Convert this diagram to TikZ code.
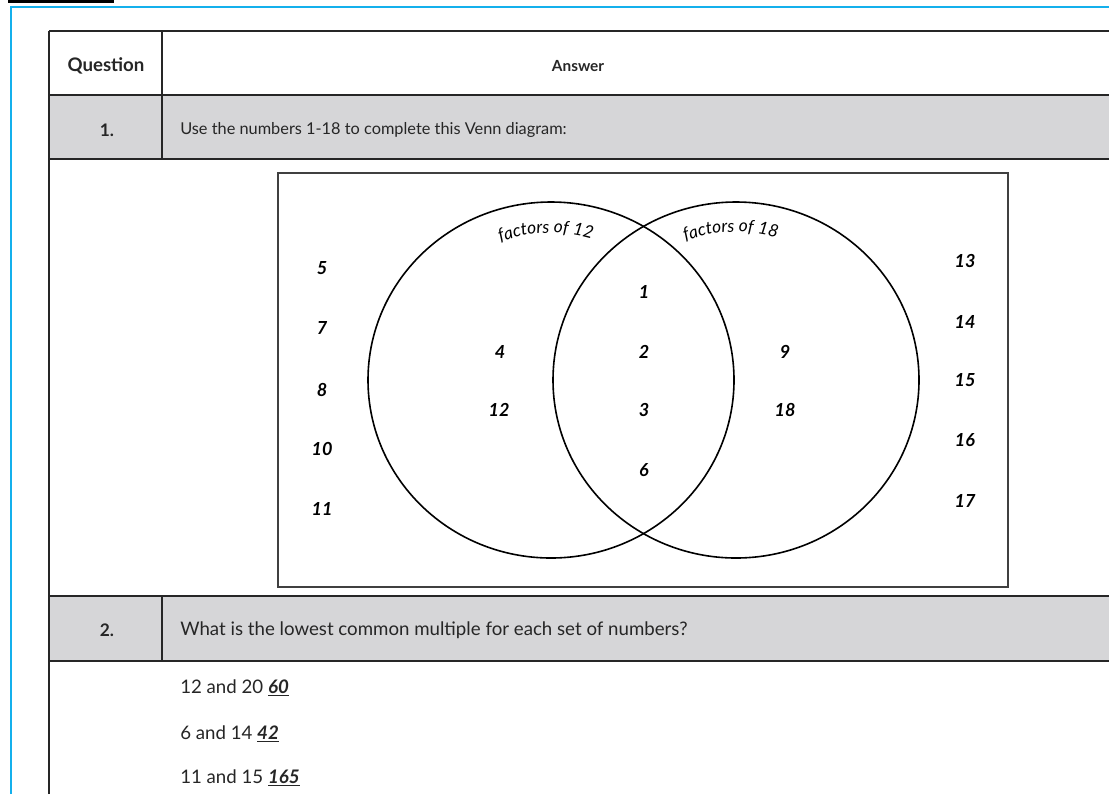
\documentclass[tikz,border=0pt]{standalone}
\usepackage{fontspec}
\setmainfont{Lato}
\usetikzlibrary{decorations.text}
\definecolor{framecyan}{HTML}{14B0EC}
\definecolor{rowgray}{HTML}{D6D6D8}
\begin{document}
\begin{tikzpicture}[x=0.75pt,y=0.75pt,
  tline/.style={line width=1.7pt, draw=black!85},
  txt/.style={font=\fontsize{12.25}{14}\selectfont, anchor=west, inner sep=0pt, text=black!85},
  anstxt/.style={font=\fontsize{14}{16}\selectfont, anchor=west, inner sep=0pt, text=black!85},
  hdr/.style={font=\fontsize{11.5}{13}\selectfont\bfseries, inner sep=0pt, text=black!85},
  num/.style={font=\fontsize{13.5}{15}\selectfont\bfseries\itshape, inner sep=0pt}
]
\useasboundingbox (0,0) rectangle (1109,-794);
\fill[white] (0,0) rectangle (1109,-794);
% top black bar and cyan frame
\draw[line width=2.5pt] (8,-1) -- (114,-1);
\draw[framecyan, line width=2pt] (11,-794) -- (11,-7) -- (1109,-7);
% shaded rows
\fill[rowgray] (49,-95) rectangle (1109,-159);
\fill[rowgray] (49,-596) rectangle (1109,-661);
% table lines
\draw[tline] (49,-794) -- (49,-31);
\foreach \yy in {31,95,159,596,661} \draw[tline] (49,-\yy) -- (1109,-\yy);
\draw[tline] (162,-31) -- (162,-159);
\draw[tline] (162,-596) -- (162,-661);
% header
\node[hdr, font=\fontsize{14}{16}\selectfont\bfseries] (hq) at (106,-66) {Question};
\node[hdr] (ha) at (578,-66) {Answer};
\node[hdr, font=\fontsize{13}{15}\selectfont\bfseries] (q1) at (107,-130) {1.};
\node[txt] (t1) at (180,-130) {Use the numbers 1-18 to complete this Venn diagram:};
\node[hdr, font=\fontsize{13}{15}\selectfont\bfseries] (q2) at (107,-630) {2.};
\node[txt, font=\fontsize{14}{16}\selectfont] (t2) at (180,-630) {What is the lowest common multiple for each set of numbers?};
% Venn box
\draw[line width=1.6pt, draw=black!75] (278,-173) rectangle (1008,-587);
\coordinate (cl) at (551,-380);
\coordinate (cr) at (736,-380);
\draw[line width=1.2pt] (cl) ellipse [x radius=183, y radius=178];
\draw[line width=1.2pt] (cr) ellipse [x radius=183, y radius=178];
\path[decorate, decoration={text along path, text align=center,
  text={|\fontsize{13}{15}\selectfont\itshape|factors of 12}}]
  (cl) ++(152:147) arc[start angle=152, end angle=32, radius=147];
\path[decorate, decoration={text along path, text align=center,
  text={|\fontsize{13}{15}\selectfont\itshape|factors of 18}}]
  (cr) ++(152:148) arc[start angle=152, end angle=32, radius=148];
% outside left
\node[num] (n5) at (322,-268) {5};
\node[num] (n7) at (322,-328) {7};
\node[num] (n8) at (322,-390) {8};
\node[num] (n10) at (322,-449) {10};
\node[num] (n11) at (322,-509) {11};
% outside right
\node[num] (n13) at (965,-261) {13};
\node[num] (n14) at (965,-322) {14};
\node[num] (n15) at (965,-380) {15};
\node[num] (n16) at (965,-440) {16};
\node[num] (n17) at (965,-501) {17};
% left only
\node[num] (n4) at (500,-352) {4};
\node[num] (n12) at (499,-410) {12};
% intersection
\node[num] (n1) at (644,-292) {1};
\node[num] (n2) at (644,-352) {2};
\node[num] (n3) at (644,-410) {3};
\node[num] (n6) at (644,-470) {6};
% right only
\node[num] (n9) at (785,-352) {9};
\node[num] (n18) at (785,-410) {18};
% question 2 answers
\node[anstxt] (a1) at (180,-688) {12 and 20 {\bfseries\itshape\underline{60}}};
\node[anstxt] (a2) at (180,-734) {6 and 14 {\bfseries\itshape\underline{42}}};
\node[anstxt] (a3) at (180,-778) {11 and 15 {\bfseries\itshape\underline{165}}};
\end{tikzpicture}
\end{document}
